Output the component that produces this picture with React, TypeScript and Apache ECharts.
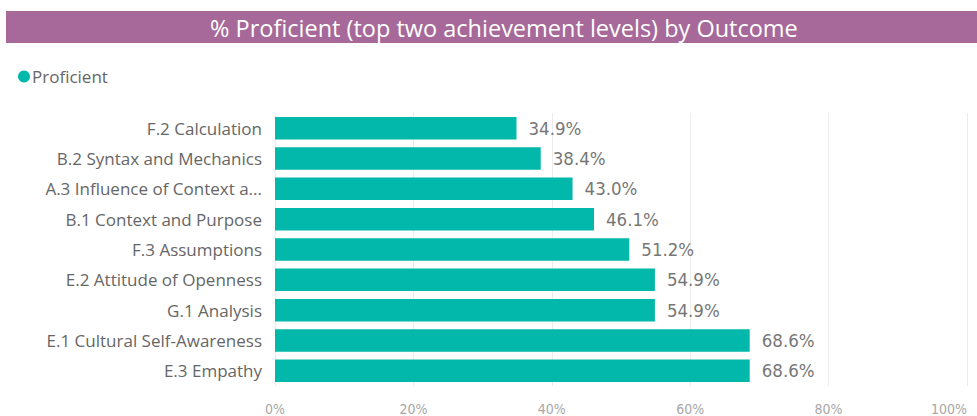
import React, { useEffect, useRef } from "react";
import * as echarts from "echarts";

const categories = [
  "F.2 Calculation",
  "B.2 Syntax and Mechanics",
  "A.3 Influence of Context a...",
  "B.1 Context and Purpose",
  "F.3 Assumptions",
  "E.2 Attitude of Openness",
  "G.1 Analysis",
  "E.1 Cultural Self-Awareness",
  "E.3 Empathy",
];
const proficient = [34.9, 38.4, 43.0, 46.1, 51.2, 54.9, 54.9, 68.6, 68.6];
const seriesName = "Proficient";
const titleText = "% Proficient (top two achievement levels) by Outcome";
const xTicks = [0, 20, 40, 60, 80, 100];

const condensed = "'DejaVu Sans Condensed', 'Liberation Sans Narrow', Roboto, sans-serif";
const ui = "'Open Sans', 'Noto Sans', sans-serif";

export default function App() {
  const ref = useRef<HTMLDivElement>(null);
  useEffect(() => {
    if (!ref.current) return;
    const chart = echarts.init(ref.current, undefined, { renderer: "svg" });
    chart.setOption({
      animation: false,
      backgroundColor: "#ffffff",
      graphic: [
        {
          type: "rect",
          shape: { x: 6, y: 11, width: 971, height: 32 },
          style: { fill: "#A66999" },
          z: 0,
        },
      ],
      title: {
        text: titleText,
        left: 205,
        top: 11,
        textStyle: {
          color: "#ffffff",
          fontSize: 23.5,
          fontWeight: "normal",
          fontFamily: ui,
        },
      },
      legend: {
        left: 13,
        top: 63,
        icon: "circle",
        itemWidth: 12,
        itemHeight: 12,
        itemGap: 4,
        textStyle: {
          color: "#666666",
          fontSize: 17,
          padding: [0, 0, 0, -3],
          fontFamily: ui,
        },
        data: [seriesName],
      },
      grid: {
        left: 275,
        right: 10,
        top: 113,
        bottom: 30,
        containLabel: false,
        outerBoundsMode: "none",
      },
      xAxis: {
        type: "value",
        min: xTicks[0],
        max: xTicks[xTicks.length - 1],
        interval: 20,
        axisLine: { show: false },
        axisTick: { show: false },
        splitLine: { show: true, lineStyle: { color: "#ececec", width: 1 } },
        axisLabel: {
          formatter: "{value}%",
          color: "#a8a8a8",
          fontSize: 14,
          margin: 16,
          fontFamily: condensed,
          alignMaxLabel: "right",
        },
      },
      yAxis: {
        type: "category",
        data: categories,
        inverse: true,
        axisLine: { show: false },
        axisTick: { show: false },
        axisLabel: {
          color: "#666666",
          fontSize: 17,
          margin: 13,
          fontFamily: ui,
        },
      },
      series: [
        {
          name: seriesName,
          type: "bar",
          data: proficient,
          barCategoryGap: "26%",
          itemStyle: { color: "#01B8AA" },
          label: {
            show: true,
            position: "right",
            distance: 12,
            formatter: (p: any) => p.value.toFixed(1) + "%",
            color: "#777777",
            fontSize: 18.5,
            fontFamily: condensed,
          },
        },
      ],
    });
    return () => chart.dispose();
  }, []);
  return (
    <div
      ref={ref}
      style={{ position: "fixed", left: 0, top: 0, width: 977, height: 416 }}
    />
  );
}
